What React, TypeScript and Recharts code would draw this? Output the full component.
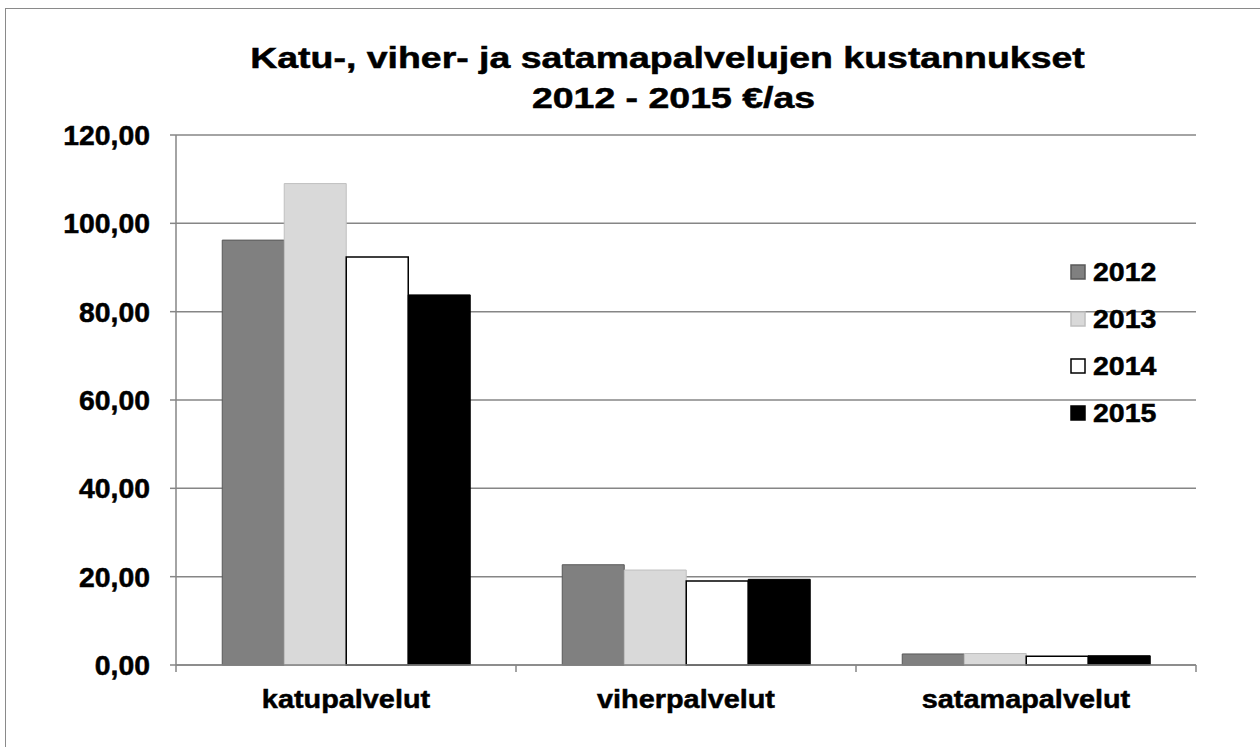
import React from 'react';
import { BarChart, Bar, XAxis, YAxis, CartesianGrid } from 'recharts';

const categories = ['katupalvelut', 'viherpalvelut', 'satamapalvelut'];
const years = ['2012', '2013', '2014', '2015'];
const values2012 = [96.2, 22.7, 2.5];
const values2013 = [109.0, 21.5, 2.6];
const values2014 = [92.4, 19.0, 2.0];
const values2015 = [83.8, 19.4, 2.1];
const yTicks = [0, 20, 40, 60, 80, 100, 120];
const titleLines = ['Katu-, viher- ja satamapalvelujen kustannukset', '2012 - 2015 €/as'];

const seriesValues = [values2012, values2013, values2014, values2015];
const seriesFill = ['#808080', '#d9d9d9', '#ffffff', '#000000'];
const seriesStroke = ['#595959', '#bfbfbf', '#000000', '#000000'];

const data = categories.map((c, i) => {
  const row: Record<string, any> = { name: c };
  years.forEach((y, j) => {
    row['y' + y] = seriesValues[j][i];
  });
  return row;
});

const FONT = '"Liberation Sans", Arial, sans-serif';
const W = 1260;
const H = 747;
const HALF_BAND = (1196 - 176) / categories.length / 2;
const TXT_STROKE = 0.5;

const fmt = (v: number) => v.toFixed(2).replace('.', ',');

const YTick = (props: any) => {
  const { x, y, payload } = props;
  return (
    <g transform={`translate(${x - 18},${y + 10})`}>
      <text
        textAnchor="end"
        transform="scale(1.05,1)"
        fontFamily={FONT}
        fontWeight="bold"
        fontSize={27}
        fill="#000"
        stroke="#000"
        strokeWidth={TXT_STROKE}
      >
        {fmt(payload.value)}
      </text>
    </g>
  );
};

const XTick = (props: any) => {
  const { x, y, payload, index } = props;
  const axisY = y - 8;
  return (
    <g>
      <line x1={x - HALF_BAND} x2={x - HALF_BAND} y1={axisY} y2={axisY + 7} stroke="#868686" strokeWidth={1.5} />
      {index === categories.length - 1 && (
        <line x1={x + HALF_BAND} x2={x + HALF_BAND} y1={axisY} y2={axisY + 7} stroke="#868686" strokeWidth={1.5} />
      )}
      <g transform={`translate(${x},${axisY + 43})`}>
        <text
          textAnchor="middle"
          transform="scale(1.11,1)"
          fontFamily={FONT}
          fontWeight="bold"
          fontSize={26}
          fill="#000"
          stroke="#000"
          strokeWidth={TXT_STROKE}
        >
          {payload.value}
        </text>
      </g>
    </g>
  );
};

export default function App() {
  return (
    <div style={{ position: 'absolute', left: 0, top: 0, width: W, height: H, background: '#fff', overflow: 'hidden' }}>
      <div
        style={{
          position: 'absolute',
          left: 5,
          top: 8,
          width: W,
          height: H,
          borderLeft: '1.5px solid #8a8a8a',
          borderTop: '1.5px solid #8a8a8a',
        }}
      />
      <div style={{ position: 'absolute', left: 0, top: 0 }}>
        <BarChart
          width={W}
          height={H}
          data={data}
          margin={{ top: 135, right: 64, bottom: 52, left: 0 }}
          barGap={0}
          barCategoryGap="13.6%"
        >
          <CartesianGrid vertical={false} stroke="#868686" strokeWidth={1.5} />
          <XAxis
            dataKey="name"
            height={30}
            tickLine={false}
            axisLine={{ stroke: '#868686', strokeWidth: 1.5 }}
            tick={<XTick />}
            interval={0}
          />
          <YAxis
            width={176}
            domain={[0, 120]}
            ticks={yTicks}
            interval={0}
            axisLine={{ stroke: '#868686', strokeWidth: 1.5 }}
            tickLine={{ stroke: '#868686', strokeWidth: 1.5 }}
            tickSize={6}
            tick={<YTick />}
          />
          {years.map((y, j) => (
            <Bar
              key={y}
              dataKey={'y' + y}
              name={y}
              fill={seriesFill[j]}
              stroke={seriesStroke[j]}
              strokeWidth={j === 2 ? 1.5 : 1}
              isAnimationActive={false}
            />
          ))}
        </BarChart>
      </div>
      <svg width={W} height={H} style={{ position: 'absolute', left: 0, top: 0, pointerEvents: 'none' }}>
        <g transform="translate(667.5,68)">
          <text textAnchor="middle" transform="scale(1.27,1)" fontFamily={FONT} fontWeight="bold" fontSize={29.5} stroke="#000" strokeWidth={TXT_STROKE}>
            {titleLines[0]}
          </text>
        </g>
        <g transform="translate(673.5,108)">
          <text textAnchor="middle" transform="scale(1.27,1)" fontFamily={FONT} fontWeight="bold" fontSize={29.5} stroke="#000" strokeWidth={TXT_STROKE}>
            {titleLines[1]}
          </text>
        </g>
        {years.map((y, j) => {
          const cy = 272 + j * 47;
          return (
            <g key={y}>
              <rect
                x={1071}
                y={cy - 7}
                width={14}
                height={14}
                fill={seriesFill[j]}
                stroke={seriesStroke[j]}
                strokeWidth={1.5}
              />
              <g transform={`translate(1093,${cy + 9})`}>
                <text transform="scale(1.14,1)" fontFamily={FONT} fontWeight="bold" fontSize={25} stroke="#000" strokeWidth={TXT_STROKE}>
                  {y}
                </text>
              </g>
            </g>
          );
        })}
      </svg>
    </div>
  );
}
